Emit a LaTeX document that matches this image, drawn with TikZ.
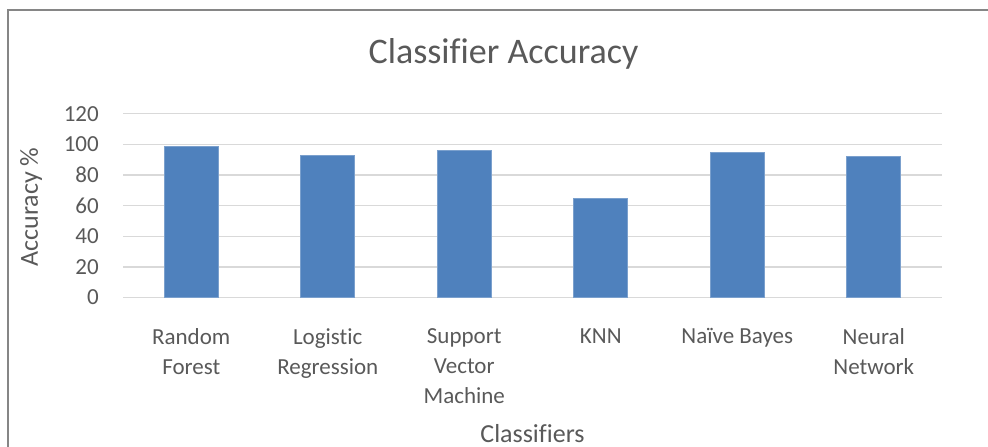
\documentclass[tikz,border=0pt]{standalone}
\usepackage{fontspec}
\setmainfont{Carlito}[Ligatures=NoCommon]
\definecolor{barblue}{HTML}{4F81BD}
\definecolor{txtgray}{HTML}{595959}
\definecolor{gridgray}{HTML}{D9D9D9}
\definecolor{framegray}{HTML}{868686}
\begin{document}
\begin{tikzpicture}[x=1pt, y=1pt, text=txtgray, font=\fontsize{23}{30}\selectfont,
	gridline/.style={draw=gridgray, line width=1.4pt},
	bar/.style={fill=barblue, draw=barblue!75!white, line width=0.7pt},
	ticklabel/.style={anchor=east, inner sep=0pt},
	catlabel/.style={anchor=north, align=center, inner sep=0pt}]
	\useasboundingbox (0,0) rectangle (988,447);
	% chart frame
	\draw[framegray, line width=2pt] (8,-10) -- (8,437) -- (1000,437);
	\node[anchor=base, font=\fontsize{36}{40}\selectfont] (title) at (503.5,383) {Classifier Accuracy};
	\begin{scope}[shift={(123,149.5)}, x=136.5pt, y=1.531pt]
		\foreach \v in {0,20,...,120}{
			\draw[gridline] (0,\v) -- (6,\v);
			\node[ticklabel, xshift=-24pt] (tick\v) at (0,\v) {\v};
		}
		\foreach \val [count=\i] in {99,93,96,65,95,92}
			\filldraw[bar] (\i-0.698,0) rectangle (\i-0.302,\val);
		\foreach \name [count=\i] in {{Random\\Forest},{Logistic\\Regression},{Support\\Vector\\Machine},{KNN},{Naïve Bayes},{Neural\\Network}}
			\node[catlabel] (cat\i) at (\i-0.5,-20) {\name};
		\node[anchor=base, font=\fontsize{26}{30}\selectfont] (xtitle) at (3,-94.4) {Classifiers};
	\end{scope}
	\node[rotate=90, font=\fontsize{26}{30}\selectfont] (ytitle) at (31,240) {Accuracy \%};
\end{tikzpicture}
\end{document}
